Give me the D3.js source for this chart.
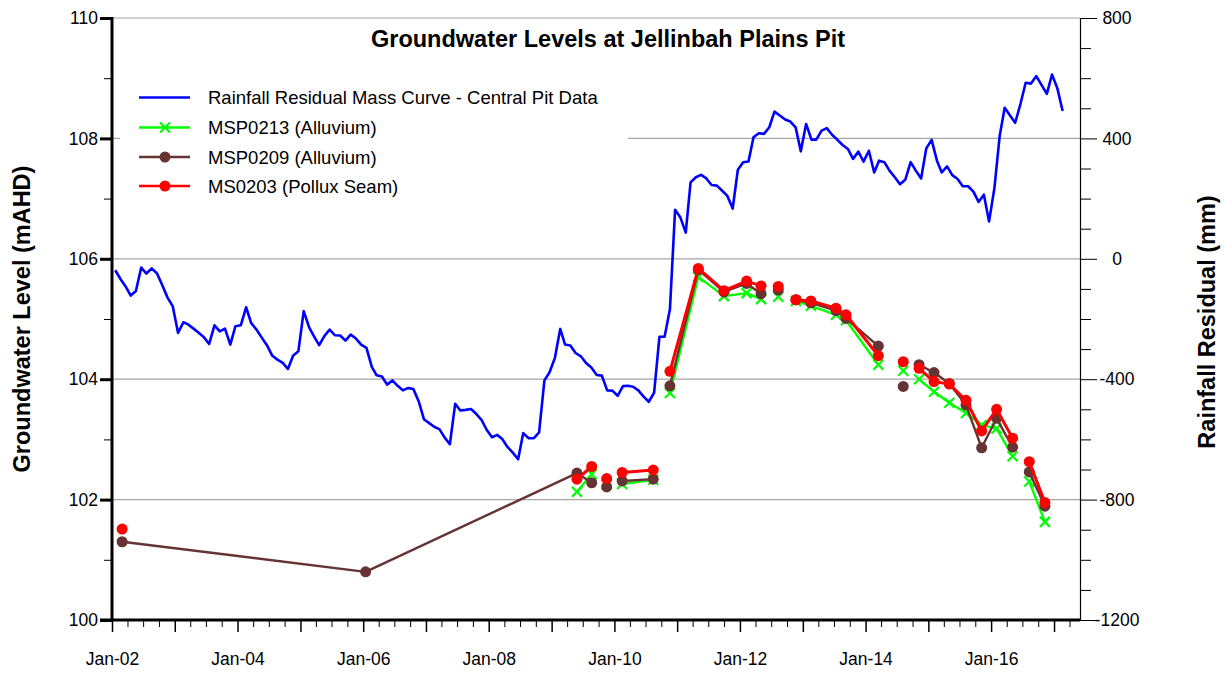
<!DOCTYPE html>
<html><head><meta charset="utf-8">
<script src="https://cdnjs.cloudflare.com/ajax/libs/d3/7.8.5/d3.min.js"></script>
<style>body{margin:0;background:#fff} svg{display:block}</style>
</head><body><svg id="c" width="1225" height="675"></svg>
<script>
// ---------------- DATA ----------------
const chartTitle = "Groundwater Levels at Jellinbah Plains Pit";
const leftAxisTitle = "Groundwater Level (mAHD)";
const rightAxisTitle = "Rainfall Residual (mm)";
const seriesNames = ["Rainfall Residual Mass Curve - Central Pit Data", "MSP0213 (Alluvium)", "MSP0209 (Alluvium)", "MS0203 (Pollux Seam)"];

// Rainfall residual mass curve (mm), monthly, first month below
const rainStart = "2002-01-20";
const rainResidual = [
 -38, -68, -91, -122, -107, -29, -49, -32, -49, -87,
 -129, -157, -246, -211, -218, -232, -246, -261, -283, -221,
 -241, -232, -285, -224, -221, -161, -213, -235, -261, -287,
 -321, -335, -346, -366, -321, -307, -174, -227, -257, -287,
 -257, -235, -254, -255, -272, -252, -265, -285,
 -296, -359, -387, -391, -418, -404, -422, -437, -429, -433,
 -474, -533, -546, -559, -566, -594, -616, -482, -504, -502,
 -499, -515, -535, -568, -593, -585, -599, -626, -644, -666,
 -579, -596, -596, -577, -404, -377, -329, -233, -285, -288,
 -313, -324, -346, -361, -386, -388,
 -437, -438, -455, -423, -422, -425, -437, -458, -475, -445,
 -259, -259, -168, 163, 137, 87, 254, 271, 279, 267,
 245, 243, 226, 209, 167, 296, 321, 323, 404, 417,
 415, 437, 489, 476, 463, 456, 437, 357, 448, 396,
 396, 426, 434, 412, 396, 378, 365, 332,
 356, 323, 359, 287, 326, 321, 293, 271, 248, 263,
 321, 293, 267, 367, 395, 326, 287, 307, 278, 265,
 241, 241, 223, 189, 213, 124, 234, 409, 502, 476,
 452, 515, 585, 582, 607, 578, 548, 612, 567, 491
];

// Groundwater monitoring dates (blank rows = no reading, lines break there)
const gwDates = ["2002-03-01","2006-01-15","2009-05-28","2009-08-22","2009-10-05","2009-11-17","2010-01-01","2010-02-15","2010-08-15","2010-10-01",
 "2010-11-20","2011-05-04","2011-09-30","2012-02-09","2012-05-03","2012-06-25","2012-08-11","2012-10-01","2012-11-22","2013-02-17",
 "2013-07-13","2013-09-09","2014-03-16","2014-06-01","2014-08-08","2014-09-25","2014-11-08","2015-02-03","2015-05-03","2015-08-08",
 "2015-11-07","2016-02-02","2016-05-05","2016-06-25","2016-08-10","2016-11-09"];
const msp0213 = [null, null, 102.13, 102.42, null, 102.25, null, 102.26, 102.33, null,
 103.77, 105.70, 105.38, 105.43, 105.33, null, 105.37, null, 105.30, 105.22,
 105.07, 104.98, 104.24, null, 104.14, null, 104.00, 103.79, 103.61, 103.44,
 103.24, 103.18, 102.72, null, 102.30, 101.63];
const msp0209 = [101.30, 100.80, 102.44, 102.28, null, 102.21, null, 102.31, 102.34, null,
 103.89, 105.82, 105.45, 105.59, 105.42, null, 105.48, null, 105.32, 105.27,
 105.14, 105.01, 104.55, null, 103.88, null, 104.24, 104.11, 103.93, 103.57,
 102.86, 103.35, 102.87, null, 102.46, 101.89];
const ms0203 = [101.51, null, 102.34, 102.55, null, 102.35, null, 102.45, 102.49, null,
 104.13, 105.84, 105.47, 105.63, 105.55, null, 105.54, null, 105.32, 105.30,
 105.18, 105.07, 104.39, null, 104.29, null, 104.18, 103.96, 103.92, 103.65,
 103.14, 103.50, 103.02, null, 102.63, 101.95];

const leftTicks = [100, 102, 104, 106, 108, 110];
const leftMinorTicks = [101, 103, 105, 107, 109];
const rightTicks = [-1200, -800, -400, 0, 400, 800];
const xLabelYears = [2002, 2004, 2006, 2008, 2010, 2012, 2014, 2016];
const xDomain = ["2002-01-01", "2017-06-01"];

// ---------------- CHART ----------------
const svg = d3.select("#c");
const L = 112, R = 1080, T = 18, B = 620;
const parse = d3.timeParse("%Y-%m-%d");
const x = d3.scaleTime().domain(xDomain.map(parse)).range([L, R]);
const yL = d3.scaleLinear().domain([100, 110]).range([B, T]);
const yR = d3.scaleLinear().domain([-1200, 800]).range([B, T]);
const tickFont = "'Liberation Sans Narrow','Arial Narrow','Liberation Sans',Arial,sans-serif";
const mainFont = "'Liberation Sans',Arial,Helvetica,sans-serif";

const COL = {rain: "#0000FF", g: "#00FF00", b: "#663333", r: "#FF0000"};

// gridlines
svg.append("g").selectAll("line").data(leftTicks.filter(d => d > 100)).join("line")
  .attr("x1", L).attr("x2", R).attr("y1", d => yL(d)).attr("y2", d => yL(d))
  .attr("stroke", "#a6a6a6").attr("stroke-width", 1.2);

// data
const rain = rainResidual.map((v, i) => ({date: d3.timeMonth.offset(parse(rainStart), i), v}));
svg.append("path").datum(rain)
  .attr("fill", "none").attr("stroke", COL.rain).attr("stroke-width", 2.6).attr("stroke-linejoin", "round")
  .attr("d", d3.line().x(d => x(d.date)).y(d => yR(d.v)));

function gwSeries(vals) { return gwDates.map((d, i) => ({date: parse(d), v: vals[i]})); }
const lineGW = d3.line().defined(d => d.v != null).x(d => x(d.date)).y(d => yL(d.v));

function drawSeries(vals, color, width, marker) {
  const data = gwSeries(vals);
  svg.append("path").datum(data).attr("fill", "none").attr("stroke", color)
    .attr("stroke-width", width).attr("stroke-linejoin", "round").attr("d", lineGW);
  const pts = data.filter(d => d.v != null);
  if (marker === "x") {
    svg.append("g").selectAll("path").data(pts).join("path")
      .attr("d", d => { const cx = x(d.date), cy = yL(d.v), s = 5;
        return `M${cx-s},${cy-s}L${cx+s},${cy+s}M${cx-s},${cy+s}L${cx+s},${cy-s}`; })
      .attr("stroke", color).attr("stroke-width", 2.2).attr("fill", "none");
  } else {
    svg.append("g").selectAll("circle").data(pts).join("circle")
      .attr("cx", d => x(d.date)).attr("cy", d => yL(d.v)).attr("r", 5.5).attr("fill", color);
  }
}
drawSeries(msp0213, COL.g, 2.4, "x");
drawSeries(msp0209, COL.b, 2.4, "o");
drawSeries(ms0203, COL.r, 3, "o");

// legend (white box)
svg.append("rect").attr("x", 120).attr("y", 68).attr("width", 508).attr("height", 137).attr("fill", "#fff");
const legY = [97.5, 127.5, 157, 186];
const legCols = [COL.rain, COL.g, COL.b, COL.r];
const legMarks = [null, "x", "o", "o"];
legY.forEach((yy, i) => {
  const g = svg.append("g");
  g.append("line").attr("x1", 139).attr("x2", 190).attr("y1", yy).attr("y2", yy)
    .attr("stroke", legCols[i]).attr("stroke-width", 2.6);
  if (legMarks[i] === "x") {
    const s = 5;
    g.append("path").attr("d", `M${165-s},${yy-s}L${165+s},${yy+s}M${165-s},${yy+s}L${165+s},${yy-s}`)
      .attr("stroke", legCols[i]).attr("stroke-width", 2.2);
  } else if (legMarks[i] === "o") {
    g.append("circle").attr("cx", 165).attr("cy", yy).attr("r", 5.5).attr("fill", legCols[i]);
  }
  g.append("text").attr("x", 208).attr("y", yy).attr("dy", "0.36em")
    .attr("font-family", mainFont).attr("font-size", 18.5).attr("fill", "#000").text(seriesNames[i]);
});

// left axis
const axL = d3.axisLeft(yL).tickValues(leftTicks).tickSize(12).tickPadding(5).tickFormat(d => String(d));
const gL = svg.append("g").attr("transform", `translate(${L},0)`).call(axL);
gL.select(".domain").attr("stroke-width", 3).attr("d", `M0,${T-1}V${B}`);
gL.selectAll(".tick line").attr("stroke-width", 3);
gL.selectAll("text").attr("font-family", tickFont).attr("font-size", 17.5).attr("fill", "#000").attr("x", -14);
svg.append("g").attr("transform", `translate(${L},0)`)
  .call(d3.axisLeft(yL).tickValues(leftMinorTicks).tickSize(8).tickFormat(""))
  .call(g => g.select(".domain").remove());

// right axis
const rightMinor = d3.range(-1200, 801, 100).filter(v => !rightTicks.includes(v));
svg.append("g").attr("transform", `translate(${R},0)`)
  .call(d3.axisRight(yR).tickValues(rightMinor).tickSize(11).tickFormat(""))
  .call(g => g.select(".domain").remove());
const gR = svg.append("g").attr("transform", `translate(${R},0)`)
  .call(d3.axisRight(yR).tickValues(rightTicks).tickSize(17).tickFormat(d => String(d)));
gR.select(".domain").attr("stroke-width", 1.2);
gR.selectAll("text").attr("font-family", tickFont).attr("font-size", 17.5).attr("fill", "#000")
  .attr("text-anchor", "middle").attr("x", 37);

// bottom axis
const yearTicks = d3.timeYear.range(parse("2002-01-01"), parse("2017-06-02"));
const quarterTicks = d3.timeMonth.every(3).range(parse("2002-01-01"), parse("2017-06-02"))
  .filter(d => d.getMonth() !== 0);
svg.append("g").attr("transform", `translate(0,${B})`)
  .call(d3.axisBottom(x).tickValues(quarterTicks).tickSize(7).tickFormat(""))
  .call(g => g.select(".domain").remove());
const gB = svg.append("g").attr("transform", `translate(0,${B})`)
  .call(d3.axisBottom(x).tickValues(yearTicks).tickSize(12)
    .tickFormat(d => xLabelYears.includes(d.getFullYear()) ? d3.timeFormat("%b-%y")(d) : ""));
gB.select(".domain").attr("stroke-width", 3).attr("d", `M100,0H${R}`);
gB.selectAll(".tick line").attr("stroke-width", 1.5);
gB.selectAll("text").attr("font-family", tickFont).attr("font-size", 17.5).attr("fill", "#000").attr("y", 33);

// titles
svg.append("text").attr("x", 608).attr("y", 47).attr("text-anchor", "middle")
  .attr("font-family", mainFont).attr("font-weight", "bold").attr("font-size", 23.5).text(chartTitle);
svg.append("text").attr("transform", "translate(30,319) rotate(-90)").attr("text-anchor", "middle")
  .attr("font-family", mainFont).attr("font-weight", "bold").attr("font-size", 23.5).text(leftAxisTitle);
svg.append("text").attr("transform", "translate(1215,322) rotate(-90)").attr("text-anchor", "middle")
  .attr("font-family", mainFont).attr("font-weight", "bold").attr("font-size", 23.5).text(rightAxisTitle);
</script></body></html>
